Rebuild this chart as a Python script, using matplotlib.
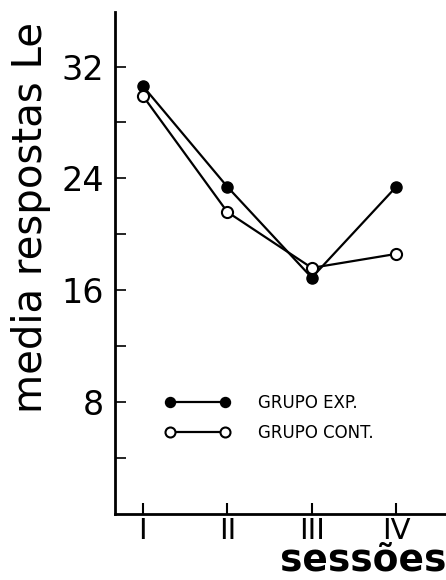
import matplotlib.pyplot as plt
from matplotlib.ticker import FixedLocator

sessions = [1, 2, 3, 4]
session_labels = ["I", "II", "III", "IV"]
grupo_exp = [30.6, 23.4, 16.9, 23.4]
grupo_cont = [29.9, 21.6, 17.6, 18.6]
major_y = [8, 16, 24, 32]
minor_y = [4, 12, 20, 28]

fig = plt.figure(figsize=(4.46, 5.8), dpi=100)
ax = fig.add_axes([0.258, 0.1138, 0.742, 0.8655])

ax.plot(sessions, grupo_exp, color="black", lw=1.6, marker="o", ms=8,
        mfc="black", mec="black", label="GRUPO EXP.", zorder=3)
ax.plot(sessions, grupo_cont, color="black", lw=1.6, marker="o", ms=8,
        mfc="white", mec="black", mew=1.5, label="GRUPO CONT.", zorder=4)

ax.set_xlim(0.67, 4.59)
ax.set_ylim(0, 35.9)

for side in ["top", "right"]:
    ax.spines[side].set_visible(False)
ax.spines["left"].set_linewidth(2)
ax.spines["bottom"].set_linewidth(2)

ax.set_xticks(sessions)
ax.set_xticklabels(session_labels, fontsize=21)
ax.set_yticks(major_y)
ax.set_yticklabels([str(v) for v in major_y], fontsize=24)
ax.yaxis.set_minor_locator(FixedLocator(minor_y))
ax.tick_params(axis="y", which="both", direction="in", length=8, width=1.2, pad=8)
ax.tick_params(axis="x", direction="in", length=8, width=1.5, pad=2)

fig.text(0.07, 0.962, "media respostas Le", rotation=90, fontsize=29,
         ha="center", va="top")
fig.text(1.0, 0.002, "sessões", fontsize=27, fontweight="bold",
         ha="right", va="bottom")

ax.legend(loc="center left", bbox_to_anchor=(0.152, 0.191), frameon=False,
          fontsize=12, numpoints=2, handlelength=3.9, handletextpad=1.65,
          labelspacing=0.7, borderpad=0, borderaxespad=0, markerscale=0.9)

fig.savefig("out.png", dpi=100)
